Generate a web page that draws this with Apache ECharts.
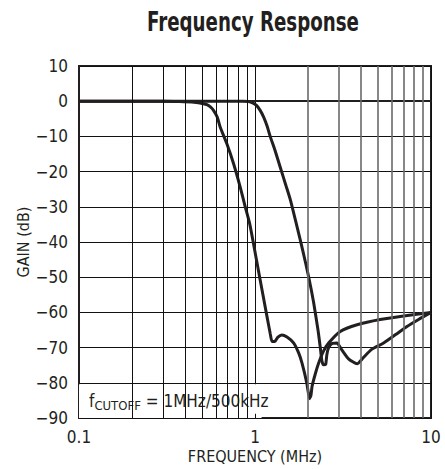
<!DOCTYPE html>
<html>
<head>
<meta charset="utf-8">
<script src="https://cdn.jsdelivr.net/npm/echarts@6/dist/echarts.min.js"></script>
<style>
  html, body { margin: 0; padding: 0; background: #fff; }
  #chart { width: 445px; height: 469px; }
</style>
</head>
<body>
<div id="chart"></div>
<script>
// Gain vs frequency for two lowpass filter settings (fcutoff = 1MHz and 500kHz)
const freq1M = [0.1, 0.5, 0.85, 0.92, 0.97, 1.02, 1.07, 1.12, 1.17, 1.22, 1.3, 1.39, 1.5, 1.59, 1.73, 1.87, 2.02, 2.15, 2.28, 2.35, 2.4, 2.45, 2.52, 2.56, 2.62, 2.75, 2.92, 3.1, 3.4, 3.8, 4.1, 4.6, 5.38, 6.3, 7.3, 8.5, 10];
const gain1M = [0, 0, 0, -0.1, -0.5, -1.2, -2.6, -4.5, -7, -10, -14, -18.7, -24, -28.1, -35.5, -42.5, -50, -57, -65, -70, -73.8, -74.9, -74.8, -72, -70, -68.8, -68.7, -70.5, -73.2, -74.6, -73, -70.5, -68.7, -66.3, -64, -62, -60];

const freq500k = [0.1, 0.3, 0.37, 0.45, 0.51, 0.533, 0.56, 0.581, 0.61, 0.634, 0.692, 0.755, 0.824, 0.88, 0.93, 0.98, 1.07, 1.17, 1.22, 1.25, 1.3, 1.35, 1.42, 1.52, 1.66, 1.77, 1.85, 1.97, 2.04, 2.08, 2.11, 2.2, 2.3, 2.45, 2.62, 3.05, 3.8, 5.14, 7, 10];
const gain500k = [0, 0, -0.1, -0.3, -0.7, -1, -1.7, -2.6, -4.5, -7.3, -12.1, -17.7, -24.4, -30, -34.5, -40.4, -50.8, -61.2, -66, -68.3, -68.2, -67, -66.4, -67, -68.7, -71.5, -74.4, -80.1, -84.5, -83.5, -81, -77.5, -74.4, -71, -68.7, -65.4, -63.5, -62, -61, -60];

// Axis ranges and intermediate log gridlines
const xTickLabels = [0.1, 1, 10];
const yMin = -90, yMax = 10, yStep = 10;
const minorLow = [0.2, 0.3, 0.4, 0.5, 0.6, 0.7, 0.8, 0.9];
const minorHigh = [2, 3, 4, 5, 6, 7, 8, 9];
const boxTicks = [0.2, 0.3, 0.4, 0.5, 0.6, 0.7, 0.8, 0.9, 1];

const FONT = "'Liberation Sans Narrow', 'DejaVu Sans Condensed', 'Liberation Sans', Arial, sans-serif";
const INK = '#231f20';

function pairs(xs, ys) { return xs.map((x, i) => [x, ys[i]]); }

const chart = echarts.init(document.getElementById('chart'), null, { renderer: 'svg' });

chart.setOption({
  animation: false,
  backgroundColor: '#fff',
  graphic: [
    {
      // chart title, narrowed horizontally to a condensed face
      type: 'text',
      x: 253,
      y: 9,
      scaleX: 0.78,
      style: {
        text: 'Frequency Response',
        font: "bold 26px " + FONT,
        fill: INK,
        textAlign: 'center',
        textVerticalAlign: 'top'
      }
    }
  ],
  grid: {
    left: 79, right: 14, top: 66, bottom: 51,
    outerBoundsMode: 'none',
    containLabel: false,
    show: true, borderColor: INK, borderWidth: 2, backgroundColor: 'transparent'
  },
  xAxis: {
    type: 'log',
    logBase: 10,
    min: 0.1,
    max: 10,
    name: 'FREQUENCY (MHz)',
    nameLocation: 'middle',
    nameGap: 30,
    nameMoveOverlap: false,
    nameTextStyle: { fontFamily: FONT, fontSize: 16, color: INK },
    axisLine: { show: true, lineStyle: { color: INK, width: 2 } },
    axisTick: { show: false },
    axisLabel: {
      fontFamily: FONT, fontSize: 17, color: INK, margin: 10,
      formatter: v => (xTickLabels.some(t => Math.abs(t - v) < 1e-9) ? String(v) : '')
    },
    splitLine: { show: true, lineStyle: { color: '#111', width: 1 } }
  },
  yAxis: {
    type: 'value',
    min: yMin,
    max: yMax,
    interval: yStep,
    name: 'GAIN (dB)',
    nameLocation: 'middle',
    nameGap: 48,
    nameMoveOverlap: false,
    nameTextStyle: { fontFamily: FONT, fontSize: 16, color: INK },
    axisLine: { show: true, lineStyle: { color: INK, width: 2 } },
    axisTick: { show: false },
    axisLabel: {
      fontFamily: FONT, fontSize: 17, color: INK, margin: 11,
      formatter: v => String(v).replace('-', '\u2212')
    },
    splitLine: { show: true, lineStyle: { color: '#111', width: 1 } }
  },
  series: [
    {
      // intermediate decade gridlines
      type: 'line',
      data: [],
      z: 1,
      silent: true,
      markLine: {
        silent: true,
        symbol: ['none', 'none'],
        label: { show: false },
        animation: false,
        data: minorLow.map(v => ({ xAxis: v, lineStyle: { color: '#111', width: 1, type: 'solid' } }))
          .concat(minorHigh.map(v => ({ xAxis: v, lineStyle: { color: '#6a6a6a', width: 1.6, type: 'solid' } })))
      }
    },
    {
      // annotation panel at the bottom-left with short tick marks
      type: 'line',
      data: [],
      z: 2,
      silent: true,
      markArea: {
        silent: true,
        itemStyle: { color: '#fff' },
        label: {
          show: true,
          position: 'insideLeft',
          distance: 10,
          formatter: '{f|f}{s|CUTOFF}{f| = 1MHz/500kHz}',
          rich: {
            f: { fontFamily: FONT, fontSize: 17, color: INK },
            s: { fontFamily: FONT, fontSize: 13, color: INK, padding: [9, 0, 0, 0] }
          }
        },
        data: [[{ coord: [0.1, -90] }, { coord: [1.09, -80.4] }]]
      },
      markLine: {
        silent: true,
        symbol: ['none', 'none'],
        label: { show: false },
        lineStyle: { color: '#111', width: 1, type: 'solid' },
        data: boxTicks.map(v => [{ coord: [v, -90] }, { coord: [v, -88.8] }])
      }
    },
    {
      name: '1MHz',
      type: 'line',
      data: pairs(freq1M, gain1M),
      z: 3,
      smooth: 0.2,
      showSymbol: false,
      lineStyle: { color: INK, width: 3 }
    },
    {
      name: '500kHz',
      type: 'line',
      data: pairs(freq500k, gain500k),
      z: 3,
      smooth: 0.2,
      showSymbol: false,
      lineStyle: { color: INK, width: 3 }
    }
  ]
});
</script>
</body>
</html>
